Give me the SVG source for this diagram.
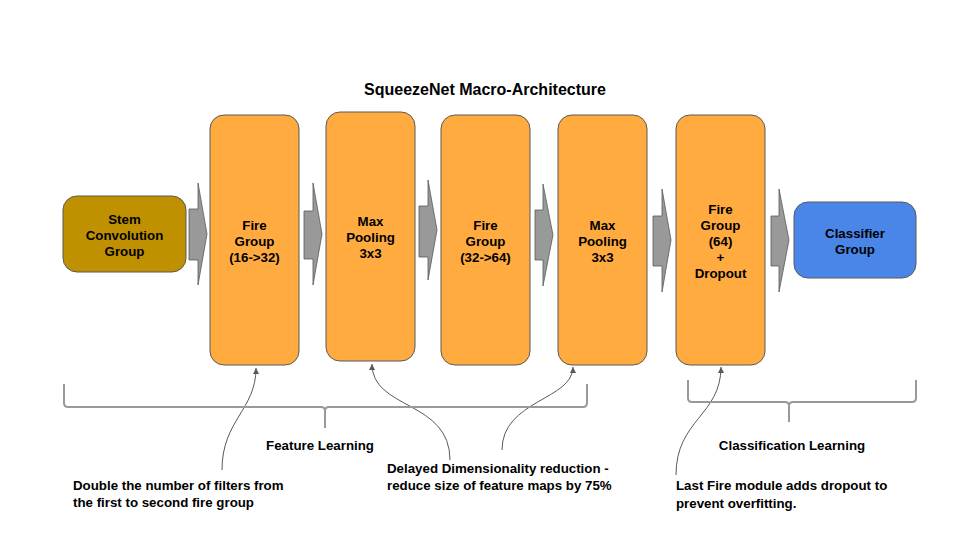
<svg xmlns="http://www.w3.org/2000/svg" width="960" height="540" viewBox="0 0 960 540">
<defs>
<style>
text{font-family:"Liberation Sans",Arial,sans-serif;font-weight:bold;font-size:13.3px;fill:#000}
.t{text-anchor:middle}
.o{fill:#ffab40;stroke:#595959;stroke-width:1}
.blk{fill:#999999;stroke:#595959;stroke-width:0.8}
.br{fill:none;stroke:#999999;stroke-width:2}
.cv{fill:none;stroke:#595959;stroke-width:1;marker-end:url(#ah)}
</style>
<marker id="ah" markerWidth="8" markerHeight="8" refX="6" refY="3" orient="auto" markerUnits="userSpaceOnUse">
<path d="M0,0 L6,3 L0,6 z" fill="#595959"/>
</marker>
</defs>
<rect width="960" height="540" fill="#ffffff"/>
<text class="t" x="485" y="95" style="font-size:16px">SqueezeNet Macro-Architecture</text>

<g id="connectors">
<path class="blk" d="M189,209 L198,209 L198,183 L207,234 L198,285 L198,260 L189,260 z"/>
<path class="blk" d="M304,211 L313,211 L313,183 L322,234 L313,285 L313,259 L304,259 z"/>
<path class="blk" d="M419,206 L428,206 L428,180 L437,230 L428,280 L428,257 L419,257 z"/>
<path class="blk" d="M535,210 L543,210 L543,184 L553,235 L543,286 L543,260 L535,260 z"/>
<path class="blk" d="M653,216 L662,216 L662,189 L671,240 L662,292 L662,266 L653,266 z"/>
<path class="blk" d="M771,216 L779,216 L779,189 L789,240 L779,292 L779,266 L771,266 z"/>
<path class="cv" d="M222,470 C222,420 256,410 256,368"/>
<path class="cv" d="M450,460 C450,400 372,410 372,364"/>
<path class="cv" d="M502,450 C502,400 573,400 573,367"/>
<path class="cv" d="M676,475 C676,420 721,415 721,367"/>
<path class="br" d="M64,384 L64,403 Q64,407 68,407 L321,407 Q325,407 325,411 L325,428 M325,428 L325,411 Q325,407 329,407 L583,407 Q587,407 587,403 L587,384"/>
<path class="br" d="M688,380 L688,398 Q688,402 692,402 L785,402 Q789,402 789,406 L789,422 M789,422 L789,406 Q789,402 793,402 L912,402 Q916,402 916,398 L916,380"/>
</g>

<g id="stem">
<rect x="63" y="196" width="123" height="76" rx="14" fill="#bf9000" stroke="#595959"/>
<text class="t" x="124.5" y="224">Stem</text>
<text class="t" x="124.5" y="240">Convolution</text>
<text class="t" x="124.5" y="256">Group</text>
</g>
<g id="fire1">
<rect class="o" x="210" y="115" width="89" height="250" rx="14"/>
<text class="t" x="254.5" y="230">Fire</text>
<text class="t" x="254.5" y="246">Group</text>
<text class="t" x="254.5" y="262">(16-&gt;32)</text>
</g>
<g id="maxpool1">
<rect class="o" x="326" y="112" width="89" height="249" rx="14"/>
<text class="t" x="370.5" y="226">Max</text>
<text class="t" x="370.5" y="242">Pooling</text>
<text class="t" x="370.5" y="258">3x3</text>
</g>
<g id="fire2">
<rect class="o" x="441" y="115" width="89" height="250" rx="14"/>
<text class="t" x="485.5" y="230">Fire</text>
<text class="t" x="485.5" y="246">Group</text>
<text class="t" x="485.5" y="262">(32-&gt;64)</text>
</g>
<g id="maxpool2">
<rect class="o" x="558" y="115" width="89" height="250" rx="14"/>
<text class="t" x="602.5" y="230">Max</text>
<text class="t" x="602.5" y="246">Pooling</text>
<text class="t" x="602.5" y="262">3x3</text>
</g>
<g id="fire3">
<rect class="o" x="676" y="115" width="89" height="250" rx="14"/>
<text class="t" x="720.5" y="214">Fire</text>
<text class="t" x="720.5" y="230">Group</text>
<text class="t" x="720.5" y="246">(64)</text>
<text class="t" x="720.5" y="262">+</text>
<text class="t" x="720.5" y="278">Dropout</text>
</g>
<g id="classifier">
<rect x="794" y="202" width="122" height="76" rx="14" fill="#4a86e8" stroke="#595959"/>
<text class="t" x="855" y="238">Classifier</text>
<text class="t" x="855" y="254">Group</text>
</g>

<g id="labels">
<text class="t" x="320" y="450">Feature Learning</text>
<text class="t" x="792" y="450">Classification Learning</text>
<text x="73" y="490">Double the number of filters from</text>
<text x="73" y="507">the first to second fire group</text>
<text x="387" y="473">Delayed Dimensionality reduction -</text>
<text x="387" y="490">reduce size of feature maps by 75%</text>
<text x="676" y="490">Last Fire module adds dropout to</text>
<text x="676" y="508">prevent overfitting.</text>
</g>
</svg>
